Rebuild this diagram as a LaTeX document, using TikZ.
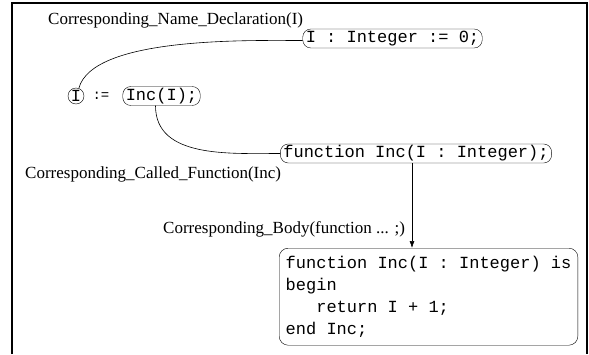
\documentclass[tikz,border=0pt]{standalone}
\usepackage{fontspec}
\setmainfont{Liberation Serif}
\setmonofont{Liberation Mono}
\usetikzlibrary{arrows.meta}

\begin{document}
\begin{tikzpicture}[x=1pt, y=-1pt,
        every node/.style={font=\fontsize{17}{20}\selectfont},
        lbl/.style={anchor=base west, inner sep=0pt},
        code/.style={draw, rounded corners=8pt, inner xsep=3pt, inner ysep=0pt,
                     minimum height=19pt, font=\ttfamily\fontsize{17}{20}\selectfont},
        circ/.style={draw, circle, inner sep=0pt, minimum size=16pt,
                     text height=11.5pt, text depth=0pt,
                     font=\ttfamily\fontsize{17}{20}\selectfont},
        bodybox/.style={draw, rounded corners=9pt, anchor=north west, align=left,
                        inner xsep=6.5pt, minimum height=97pt,
                        font=\ttfamily\fontsize{17}{22}\selectfont},
        link/.style={line width=0.6pt}]

        \useasboundingbox (0,0) rectangle (589,354);

        %Frame
        \draw [line width=2pt]  (12,354) -- (12,2.5) -- (587,2.5) -- (587,354);

        %Name declaration
        \node [lbl]  (declname) at (48,24)       {Corresponding\_Name\_Declaration(I)};
        \node [code] (decl)     at (392.5,38.5)  {I : Integer := 0;};

        %Assignment
        \node [circ] (var)      at (76,96)       {\makebox[3pt]{I}};
        \node        (assign)   at (101,96)      {\ttfamily\fontsize{14}{16}\selectfont :=};
        \node [code] (inc)      at (161.5,96)    {Inc(I);};

        %Called function
        \node [code] (func)     at (416,153.5)   {function Inc(I : Integer);};
        \node [lbl]  (callname) at (25,178)      {Corresponding\_Called\_Function(Inc)};

        %Function body
        \node [lbl]  (bodyname) at (163,233)     {Corresponding\_Body(function ... ;)};
        \node [bodybox] (body)  at (279,248)     {function Inc(I : Integer) is\\
                                                  begin\\
                                                  \hphantom{ret}return I + 1;\\
                                                  end Inc;};

        %Links
        \draw [link] (var.70) to [out=75, in=180, looseness=0.6] ([yshift=-2pt]decl.west);
        \draw [link] ([xshift=-6pt]inc.south) to [out=-90, in=180] (func.west);
        \draw [link, -{Latex[length=7pt, width=5pt]}]
              ([xshift=-4pt]func.south) -- ([xshift=-4pt]func.south |- body.north);

\end{tikzpicture}
\end{document}
